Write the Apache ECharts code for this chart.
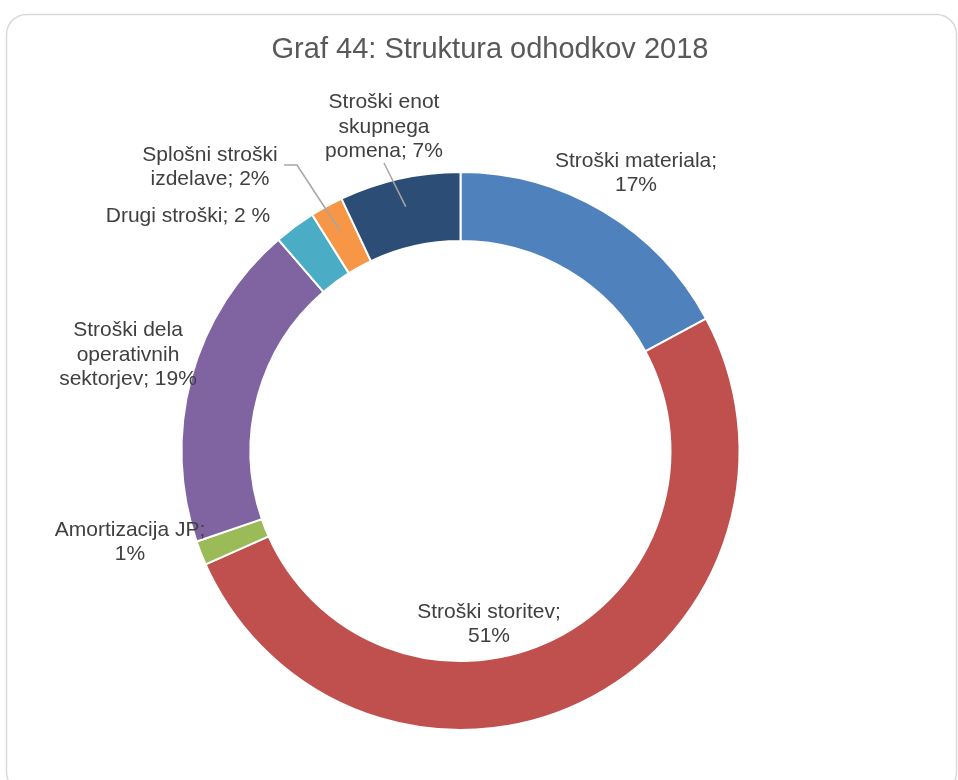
<!DOCTYPE html>
<html>
<head>
<meta charset="utf-8">
<title>Graf 44: Struktura odhodkov 2018</title>
<script src="https://cdn.jsdelivr.net/npm/echarts@6/dist/echarts.min.js"></script>
<style>
  html, body { margin: 0; padding: 0; background: #ffffff; }
  #chart { width: 958px; height: 780px; }
</style>
</head>
<body>
<div id="chart"></div>
<script>
// Expense categories, clockwise from 12 o'clock
const categories = [
  'Stroški materiala',
  'Stroški storitev',
  'Amortizacija JP',
  'Stroški dela operativnih sektorjev',
  'Drugi stroški',
  'Splošni stroški izdelave',
  'Stroški enot skupnega pomena'
];

// Share of total expenses, %
const shares = [17.1, 51.1, 1.4, 18.9, 2.4, 1.9, 7.0];

// Label wording with line breaks; {p} is replaced by the rounded share
const labelTemplates = [
  'Stroški materiala;\n{p}%',
  'Stroški storitev;\n{p}%',
  'Amortizacija JP;\n{p}%',
  'Stroški dela\noperativnih\nsektorjev; {p}%',
  'Drugi stroški; {p} %',
  'Splošni stroški\nizdelave; {p}%',
  'Stroški enot\nskupnega\npomena; {p}%'
];

const colors = ['#4f81bd', '#c0504d', '#9bbb59', '#8064a2', '#4bacc6', '#f79646', '#2c4d75'];

const FONT = '"Liberation Sans", Arial, sans-serif';
const TEXT_COLOR = '#404040';

// Label centres (px) for each slice
const labelSpots = [
  [636, 173], [489, 624], [130, 542], [128, 355],
  [188, 216], [210, 167], [384, 127]
];

const chart = echarts.init(document.getElementById('chart'), null, { renderer: 'canvas' });

const frameAndTitle = [
  {
    type: 'rect',
    shape: { x: 6.5, y: 14.5, width: 950, height: 778, r: 20 },
    style: { fill: '#ffffff', stroke: '#d9d9d9', lineWidth: 1.5 },
    z: -10, silent: true
  },
  {
    type: 'text',
    x: 490, y: 50,
    style: {
      text: 'Graf 44: Struktura odhodkov 2018',
      font: '29px ' + FONT,
      fill: '#595959',
      align: 'center',
      verticalAlign: 'middle'
    },
    silent: true
  }
];

chart.setOption({
  animation: false,
  color: colors,
  graphic: frameAndTitle,
  series: [{
    type: 'pie',
    center: [460.5, 451],
    radius: [210, 279],
    startAngle: 90,
    clockwise: true,
    avoidLabelOverlap: false,
    minShowLabelAngle: 0,
    itemStyle: { borderColor: '#ffffff', borderWidth: 2 },
    emphasis: { disabled: true },
    label: {
      show: true,
      position: 'outside',
      fontFamily: FONT,
      fontSize: 21,
      lineHeight: 24.5,
      color: TEXT_COLOR,
      formatter: (p) => labelTemplates[p.dataIndex].replace('{p}', Math.round(p.value))
    },
    labelLine: { show: false },
    labelLayout: (params) => {
      const s = labelSpots[params.dataIndex];
      return { x: s[0], y: s[1], align: 'center', verticalAlign: 'middle', hideOverlap: false };
    },
    data: categories.map((name, i) => ({ name: name, value: shares[i] }))
  }]
});

// Leader lines from the two narrow top slices to their labels
const seriesData = chart.getModel().getSeriesByIndex(0).getData();
function slicePoint(idx) {
  const l = seriesData.getItemLayout(idx);
  const mid = (l.startAngle + l.endAngle) / 2;
  const rr = (l.r + l.r0) / 2 + 6;
  return [l.cx + rr * Math.cos(mid), l.cy + rr * Math.sin(mid)];
}
const lineStyle = { stroke: '#a6a6a6', lineWidth: 1.5, fill: null };
const spl = slicePoint(5);
const enot = slicePoint(6);
chart.setOption({
  graphic: frameAndTitle.concat([
    {
      type: 'polyline',
      shape: { points: [[labelSpots[5][0] + 74, labelSpots[5][1] - 2], [labelSpots[5][0] + 87, labelSpots[5][1] - 2], spl] },
      style: lineStyle, silent: true, z: 100
    },
    {
      type: 'polyline',
      shape: { points: [[labelSpots[6][0], labelSpots[6][1] + 36], enot] },
      style: lineStyle, silent: true, z: 100
    }
  ])
});
</script>
</body>
</html>
